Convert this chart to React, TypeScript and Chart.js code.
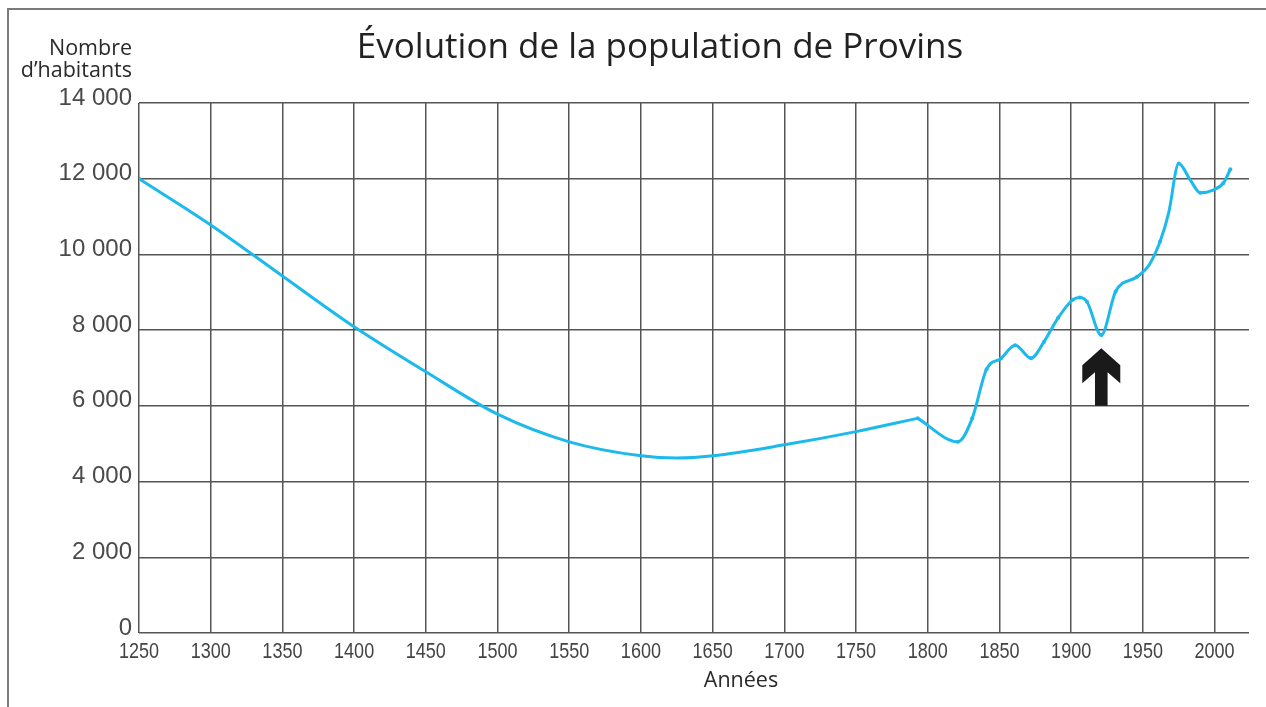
import React, { useEffect, useRef } from "react";
import { Chart, registerables } from "chart.js";

Chart.register(...registerables);

const oldYears = [1250, 1300, 1350, 1400, 1450, 1500, 1550, 1600, 1625, 1650, 1700, 1750, 1793];
const oldPopulation = [12000, 10780, 9430, 8090, 6900, 5780, 5050, 4680, 4620, 4680, 4970, 5320, 5670];
const censusYears = [1793, 1821, 1831, 1841, 1851, 1861, 1872, 1881, 1891, 1901, 1906, 1911, 1921, 1931, 1946, 1954, 1962, 1968, 1975, 1983, 1990, 1999, 2006, 2011];
const censusPopulation = [5670, 5050, 5670, 6970, 7250, 7600, 7260, 7690, 8330, 8800, 8860, 8750, 7870, 9020, 9410, 9700, 10340, 11100, 12400, 11970, 11630, 11700, 11880, 12250];
const dottedYears = [1793, 1821, 1831, 1841, 1851, 1861, 1872, 1881, 1891, 1901, 1906, 1911, 1921, 1931, 1946, 1962, 1975, 1990, 2006, 2011];
const xTickYears = [1250, 1300, 1350, 1400, 1450, 1500, 1550, 1600, 1650, 1700, 1750, 1800, 1850, 1900, 1950, 2000];

const titleText = "Évolution de la population de Provins";
const yAxisTitle = ["Nombre", "d’habitants"];
const xAxisTitle = "Années";
const arrowYear = 1921;
const arrowTop = 7520;
const arrowBottom = 6000;

const lineColor = "#1cb9ec";
const formatY = (v: number) => (v === 0 ? "0" : `${v / 1000} 000`);

const decorPlugin = {
  id: "decor",
  beforeDraw(chart: any) {
    const ctx = chart.ctx;
    ctx.save();
    ctx.fillStyle = "#ffffff";
    ctx.fillRect(0, 0, chart.width, chart.height);
    ctx.strokeStyle = "#7a7a7a";
    ctx.lineWidth = 2;
    ctx.beginPath();
    ctx.moveTo(chart.width, 9);
    ctx.lineTo(8, 9);
    ctx.lineTo(8, chart.height);
    ctx.stroke();
    ctx.restore();
  },
  afterDraw(chart: any) {
    const ctx = chart.ctx;
    const xs = chart.scales.x;
    const ys = chart.scales.y;
    ctx.save();
    ctx.fillStyle = "#222222";
    ctx.font = "35px 'Open Sans'";
    ctx.textAlign = "center";
    ctx.textBaseline = "alphabetic";
    ctx.fillText(titleText, 660, 58);

    ctx.fillStyle = "#2a2a2a";
    ctx.font = "21.5px 'Open Sans'";
    ctx.textAlign = "right";
    ctx.fillText(yAxisTitle[0], 132, 55);
    ctx.fillText(yAxisTitle[1], 132, 77);

    ctx.textAlign = "center";
    ctx.font = "21.5px 'Open Sans'";
    ctx.fillText(xAxisTitle, 741, 687);

    // condensed x tick labels
    ctx.fillStyle = "#444444";
    ctx.font = "22px 'Liberation Sans'";
    ctx.textAlign = "center";
    for (const yr of xTickYears) {
      const px = xs.getPixelForValue(yr);
      ctx.save();
      ctx.translate(px, 658);
      ctx.scale(0.82, 1);
      ctx.fillText(String(yr), 0, 0);
      ctx.restore();
    }

    // arrow
    const ax = xs.getPixelForValue(arrowYear);
    const ty = ys.getPixelForValue(arrowTop);
    const by = ys.getPixelForValue(arrowBottom);
    ctx.fillStyle = "#1a1a1a";
    ctx.beginPath();
    ctx.moveTo(ax, ty);
    ctx.lineTo(ax + 19, ty + 17);
    ctx.lineTo(ax + 19, ty + 35);
    ctx.lineTo(ax + 6.3, ty + 24);
    ctx.lineTo(ax + 6.3, by);
    ctx.lineTo(ax - 6.3, by);
    ctx.lineTo(ax - 6.3, ty + 24);
    ctx.lineTo(ax - 19, ty + 35);
    ctx.lineTo(ax - 19, ty + 17);
    ctx.closePath();
    ctx.fill();
    ctx.restore();
  },
};

export default function App() {
  const ref = useRef<HTMLCanvasElement | null>(null);

  useEffect(() => {
    if (!ref.current) return;
    const common = {
      borderColor: lineColor,
      backgroundColor: lineColor,
      borderWidth: 3,
      cubicInterpolationMode: "monotone",
      pointBorderWidth: 0,
      pointHoverRadius: 0,
      fill: false,
    };
    const chart = new Chart(ref.current, {
      type: "line",
      data: {
        datasets: [
          {
            ...common,
            data: oldYears.map((y, i) => ({ x: y, y: oldPopulation[i] })),
            pointRadius: (c: any) => (c.dataIndex === 0 ? 2 : 0),
          },
          {
            ...common,
            data: censusYears.map((y, i) => ({ x: y, y: censusPopulation[i] })),
            pointRadius: (c: any) => (dottedYears.includes(censusYears[c.dataIndex]) ? 2 : 0),
          },
        ],
      },
      options: {
        animation: false,
        responsive: false,
        events: [],
        layout: { padding: { top: 103, right: 17, left: 0, bottom: 0 } },
        plugins: {
          legend: { display: false },
          title: { display: false },
          tooltip: { enabled: false },
        },
        scales: {
          x: {
            type: "linear",
            min: 1250,
            max: 2024,
            border: { display: false },
            grid: { color: "#555555", lineWidth: 1.5, drawTicks: false },
            afterBuildTicks: (scale: any) => {
              scale.ticks = scale.ticks.filter((t: any) => t.value % 50 === 0 && t.value <= 2000);
            },
            afterFit: (scale: any) => {
              scale.height = 74;
            },
            ticks: {
              display: false,
              stepSize: 50,
              includeBounds: false,
              autoSkip: false,
              maxRotation: 0,
            },
          },
          y: {
            min: 0,
            max: 14000,
            border: { display: false },
            grid: { color: "#555555", lineWidth: 1.5, drawTicks: false },
            afterFit: (scale: any) => {
              scale.width = 139;
            },
            ticks: {
              stepSize: 2000,
              padding: 7,
              labelOffset: -5,
              color: "#4a4a4a",
              font: { family: "'Liberation Sans'", size: 24 },
              callback: (v: any) => formatY(Number(v)),
            },
          },
        },
      },
      plugins: [decorPlugin],
    } as any);
    return () => chart.destroy();
  }, []);

  return (
    <div style={{ position: "absolute", left: 0, top: 0, width: 1266, height: 707 }}>
      <canvas ref={ref} width={1266} height={707} style={{ display: "block" }} />
    </div>
  );
}
